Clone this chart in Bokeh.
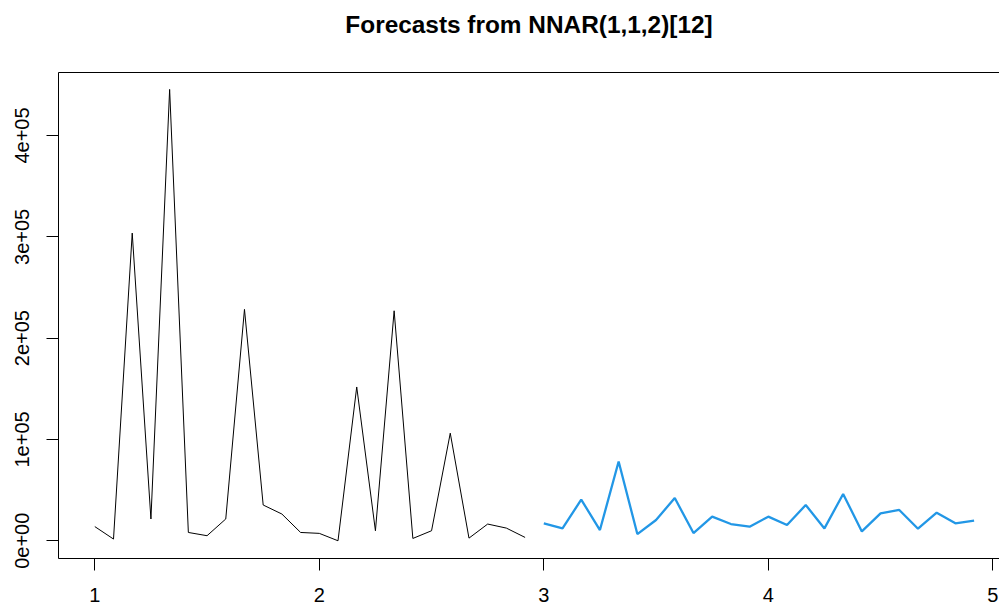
from bokeh.plotting import figure
from bokeh.embed import file_html
from bokeh.resources import INLINE
from bokeh.models import Range1d, FixedTicker, LinearAxis
import numpy as np

# observed series (monthly, starting at 1)
hist_start = 1.0
hist_values = [14000, 1700, 303700, 21500, 445500, 8200, 5000, 21500, 228400, 35300,
               26400, 8200, 7300, 0, 151800, 9900, 227000, 2300, 9900, 106200,
               2600, 16500, 12500, 3300]
# forecasts (monthly, starting at 3)
fc_start = 3.0
fc_values = [17200, 12200, 40600, 10600, 78200, 6600, 20500, 42200, 7600, 23800,
             16500, 13900, 23800, 15500, 35300, 12200, 46200, 9200, 27000, 30400,
             11900, 27700, 17200, 19800]
x_ticks = [1, 2, 3, 4, 5]
y_ticks = [0, 100000, 200000, 300000, 400000]
y_tick_labels = ["0e+00", "1e+05", "2e+05", "3e+05", "4e+05"]
title_text = "Forecasts from NNAR(1,1,2)[12]"

hx = hist_start + np.arange(len(hist_values)) / 12.0
fx = fc_start + np.arange(len(fc_values)) / 12.0

FONT = "Liberation Sans"

p = figure(width=999, height=604, output_backend="svg", toolbar_location=None,
           x_axis_type=None, y_axis_type=None, title=None,
           min_border_left=58, min_border_right=0, min_border_bottom=0, min_border_top=72)
p.x_range = Range1d(0.8383, 5.0298)
p.y_range = Range1d(-17500, 462200)

p.grid.visible = False
p.outline_line_color = None
p.background_fill_color = "white"
p.border_fill_color = "white"

xa = LinearAxis(ticker=FixedTicker(ticks=x_ticks))
xa.major_label_text_font = FONT
xa.major_label_text_font_size = "20px"
xa.major_label_text_color = "black"
xa.major_label_text_line_height = 0.7
xa.major_tick_out = 12
xa.major_tick_in = 0
xa.minor_tick_out = 0
xa.minor_tick_in = 0
xa.major_label_standoff = 17
xa.axis_line_color = "black"
xa.major_tick_line_color = "black"
p.add_layout(xa, "below")

ya = LinearAxis(ticker=FixedTicker(ticks=y_ticks))
ya.major_label_overrides = {t: l for t, l in zip(y_ticks, y_tick_labels)}
ya.major_label_orientation = "vertical"
ya.major_label_text_font = FONT
ya.major_label_text_font_size = "20px"
ya.major_label_text_color = "black"
ya.major_tick_out = 12
ya.major_tick_in = 0
ya.minor_tick_out = 0
ya.minor_tick_in = 0
ya.major_label_standoff = 17
ya.axis_line_color = "black"
ya.major_tick_line_color = "black"
p.add_layout(ya, "left")

# top frame line, carrying the chart title as its label
ta = LinearAxis(ticker=FixedTicker(ticks=[]))
ta.major_tick_out = 0
ta.major_tick_in = 0
ta.minor_tick_out = 0
ta.minor_tick_in = 0
ta.major_label_standoff = 0
ta.axis_line_color = "black"
ta.axis_label = title_text
ta.axis_label_text_font = FONT
ta.axis_label_text_font_size = "24.4px"
ta.axis_label_text_font_style = "bold"
ta.axis_label_text_color = "black"
ta.axis_label_standoff = 35
p.add_layout(ta, "above")

p.line(hx, hist_values, line_color="black", line_width=1)
p.line(fx, fc_values, line_color="#2297E6", line_width=2.3)

open("out.html", "w").write(file_html(p, INLINE))
